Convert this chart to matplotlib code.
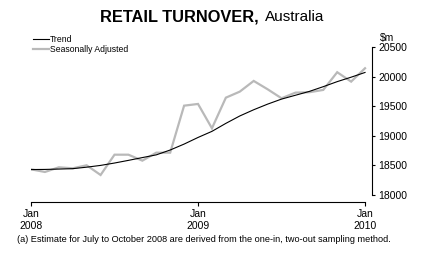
import matplotlib
matplotlib.use("Agg")
import matplotlib.pyplot as plt

plt.rcParams['font.family'] = ['Liberation Sans', 'DejaVu Sans']

# Monthly data, Jan 2008 .. Jan 2010 ($m)
months = list(range(25))
trend = [18430, 18432, 18438, 18445, 18470, 18500, 18540, 18585, 18632, 18678,
         18760, 18860, 18972, 19075, 19210, 19335, 19440, 19535, 19620, 19685,
         19750, 19830, 19915, 19990, 20070]
seas_adj = [18434, 18389, 18468, 18451, 18502, 18338, 18681, 18681, 18580, 18715,
            18715, 19509, 19538, 19127, 19644, 19746, 19927, 19786, 19634, 19729,
            19736, 19775, 20074, 19915, 20141]

x_ticks = [0, 12, 24]
x_labels = ["Jan\n2008", "Jan\n2009", "Jan\n2010"]
y_ticks = [18000, 18500, 19000, 19500, 20000, 20500]

W, H = 426, 261
fig = plt.figure(figsize=(W / 100, H / 100), dpi=100)

# axes: Jan 2008 at x=31px, y axis spine at x=372px, 18000 at y=195px, 20500 at y=47px
ax = fig.add_axes([31 / W, (H - 195) / H, (372 - 31) / W, (195 - 47) / H])

sa_line, = ax.plot(months, seas_adj, color='#b9b9b9', lw=1.6, solid_joinstyle='miter')
tr_line, = ax.plot(months, trend, color='black', lw=0.8)

ax.set_xlim(0, 24.5)
ax.set_ylim(18000, 20500)

ax.spines['left'].set_visible(False)
ax.spines['top'].set_visible(False)
ax.spines['right'].set_linewidth(0.8)
ax.spines['bottom'].set_linewidth(0.8)
ax.spines['bottom'].set_position(('outward', 5))
ax.spines['bottom'].set_bounds(0, 24)

ax.yaxis.tick_right()
ax.set_yticks(y_ticks)
ax.set_yticklabels([str(v) for v in y_ticks])
ax.tick_params(axis='y', direction='out', length=2.5, width=0.8, pad=2, labelsize=7.5)

ax.set_xticks(x_ticks)
ax.set_xticklabels(x_labels, linespacing=1.3)
ax.tick_params(axis='x', direction='out', length=3, width=0.8, pad=2, labelsize=7.5)

ax.text(1.045, 1.03, "$m", transform=ax.transAxes, ha='center', va='bottom', fontsize=7.5)

ax.legend([tr_line, sa_line], ["Trend", "Seasonally Adjusted"],
          loc='upper left', bbox_to_anchor=(33 / W, (H - 35) / H),
          bbox_transform=fig.transFigure, frameon=False, fontsize=6.2,
          handlelength=1.8, handletextpad=0.2, labelspacing=0.15,
          borderpad=0, borderaxespad=0)

# title: bold part then regular part
fig.text(259 / W, (H - 17) / H, "RETAIL TURNOVER,", ha='right', va='center',
         fontsize=11.8, fontweight='bold')
fig.text(265 / W, (H - 17) / H, "Australia", ha='left', va='center', fontsize=11)

fig.text(17 / W, (H - 240) / H,
         "(a) Estimate for July to October 2008 are derived from the one-in, two-out sampling method.",
         ha='left', va='center', fontsize=6.6)

fig.savefig("out.png", dpi=100)
